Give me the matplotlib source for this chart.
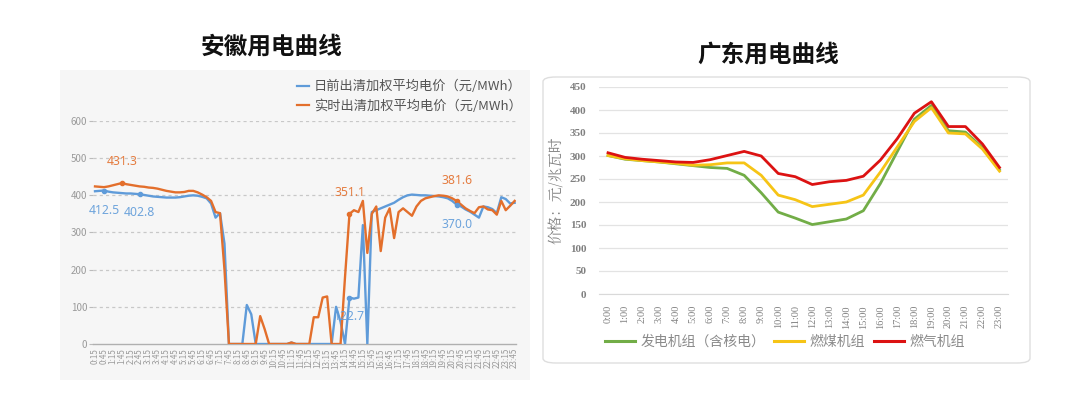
import matplotlib
matplotlib.use("Agg")
import matplotlib.pyplot as plt
from matplotlib.patches import Rectangle, FancyBboxPatch
from matplotlib.lines import Line2D

plt.rcParams['font.family'] = ['Noto Sans CJK SC', 'DejaVu Sans']

# ---------------- data: Anhui (15-min, 0:15 .. 23:45) ----------------
ah_times = [f"{(15 * (i + 1)) // 60}:{(15 * (i + 1)) % 60:02d}" for i in range(95)]
ah_day_ahead = [411, 412, 413, 410, 408, 407, 406, 405, 405, 404,
                403, 401, 399, 397, 396, 395, 394, 394, 394, 395,
                397, 399, 400, 399, 396, 392, 378, 340, 352, 270,
                0, 0, 0, 0, 105, 80, 0, 0, 0, 0,
                0, 0, 0, 0, 4, 0, 0, 0, 0, 0,
                0, 0, 0, 0, 100, 60, 0, 125, 122, 125,
                320, 0, 355, 360, 365, 370, 375, 380, 388, 395,
                400, 402, 401, 400, 400, 399, 398, 397, 395, 392,
                385, 375, 370, 362, 356, 348, 340, 370, 368, 363,
                352, 395, 390, 378, 380]
ah_real_time = [424, 423, 422, 424, 427, 430, 433, 430, 428, 426,
                424, 423, 421, 420, 418, 415, 412, 410, 408, 408,
                409, 412, 412, 408, 402, 395, 385, 355, 352, 200,
                0, 0, 0, 0, 0, 0, 0, 75, 40, 0,
                0, 0, 0, 0, 4, 0, 0, 0, 0, 72,
                72, 125, 128, 0, 0, 0, 180, 350, 360, 355,
                385, 245, 350, 370, 250, 340, 365, 285, 355, 365,
                355, 345, 370, 385, 392, 395, 398, 400, 399, 397,
                392, 385, 375, 365, 358, 352, 368, 370, 362, 360,
                348, 385, 360, 372, 385]
ah_series_names = ["日前出清加权平均电价（元/MWh）", "实时出清加权平均电价（元/MWh）"]
# annotations: (series, index, label text, text value position)
ah_notes = [(0, 2, "412.5", 360), (0, 10, "402.8", 354), (1, 6, "431.3", 492),
            (1, 57, "351.1", 408), (0, 57, "122.7", 73), (1, 81, "381.6", 440),
            (0, 81, "370.0", 322)]
ah_yticks = [0, 100, 200, 300, 400, 500, 600]

# ---------------- data: Guangdong (hourly) ----------------
gd_hours = [f"{h}:00" for h in range(24)]
gd_gen_all = [301, 293, 290, 287, 283, 279, 275, 273, 258, 220,
              178, 165, 151, 157, 163, 181, 240, 310, 380, 410,
              355, 352, 318, 270]
gd_coal = [301, 294, 290, 287, 284, 280, 281, 285, 285, 258,
           215, 205, 190, 195, 200, 215, 265, 320, 375, 405,
           350, 348, 315, 267]
gd_gas = [307, 297, 293, 290, 287, 286, 292, 301, 310, 300,
          262, 255, 238, 244, 247, 256, 291, 338, 393, 418,
          364, 364, 326, 275]
gd_series_names = ["发电机组（含核电）", "燃煤机组", "燃气机组"]
gd_yticks = list(range(0, 451, 50))

# ---------------- figure ----------------
W, H = 1080, 393
fig = plt.figure(figsize=(W / 100, H / 100), dpi=100)
fig.patch.set_facecolor("white")

def fx(px):
    return px / W

def fy(py):
    return 1 - py / H

# left panel background
fig.patches.append(Rectangle((fx(60), fy(380)), fx(470), 310 / H, transform=fig.transFigure,
                             facecolor="#f6f6f6", edgecolor="none", zorder=-5))
# right panel rounded box
fig.patches.append(FancyBboxPatch((fx(543), fy(363)), fx(487), 286 / H,
                                  boxstyle="round,pad=0,rounding_size=0.012",
                                  transform=fig.transFigure, facecolor="white",
                                  edgecolor="#dedede", linewidth=1.0, zorder=-5))

BLUE = "#5f9bd9"
ORANGE = "#e36f2c"

# ---------------- left chart ----------------
axL = fig.add_axes([fx(93), fy(344), fx(516 - 93), (344 - 121) / H])
axL.set_facecolor("none")
x = list(range(len(ah_times)))
axL.plot(x, ah_day_ahead, color=BLUE, lw=1.7, zorder=3)
axL.plot(x, ah_real_time, color=ORANGE, lw=1.7, zorder=4)
series = [ah_day_ahead, ah_real_time]
colors = [BLUE, ORANGE]
for s, i, txt, ty in ah_notes:
    axL.plot([i], [series[s][i]], marker="o", ms=3, color=colors[s], zorder=5)
    axL.text(i, ty, txt, color=colors[s], fontsize=8.8, fontweight="bold",
             ha="center", va="center", family=["Noto Sans"], alpha=0.9, zorder=6)
axL.set_xlim(-0.45, 94.3)
axL.set_ylim(0, 600)
axL.set_yticks(ah_yticks)
axL.set_yticklabels([str(v) for v in ah_yticks], fontsize=7, color="#9a9a9a")
axL.set_xticks(x[::2])
axL.set_xticklabels(ah_times[::2], rotation=90, fontsize=5.8, color="#9a9a9a")
axL.tick_params(axis="y", length=3, color="#bbbbbb", pad=1)
axL.tick_params(axis="x", length=0, pad=3)
for yv in ah_yticks[1:]:
    axL.axhline(yv, color="#c8c8c8", lw=0.9, ls=(0, (2.5, 2.5)), zorder=1)
for sp in ["top", "right", "left"]:
    axL.spines[sp].set_visible(False)
axL.spines["bottom"].set_color("#b0b0b0")
axL.spines["bottom"].set_linewidth(1.0)

legL = fig.legend([Line2D([], [], color=BLUE, lw=1.6), Line2D([], [], color=ORANGE, lw=1.6)],
                  ah_series_names, loc="upper right", bbox_to_anchor=(fx(522), fy(80)),
                  frameon=False, fontsize=9.5, handlelength=0.9, handletextpad=0.4,
                  labelspacing=0.45, borderaxespad=0, borderpad=0)
for t in legL.get_texts():
    t.set_color("#555555")

fig.text(fx(272), fy(47), "安徽用电曲线", fontsize=17, fontweight="bold", ha="center",
         va="center", color="#111111")

# ---------------- right chart ----------------
GREEN = "#72ad47"
YELLOW = "#f6c416"
RED = "#dc1212"
axR = fig.add_axes([fx(599), fy(294), fx(1008 - 599), (294 - 87) / H])
axR.set_facecolor("none")
xr = list(range(len(gd_hours)))
axR.plot(xr, gd_gen_all, color=GREEN, lw=2.0, zorder=3)
axR.plot(xr, gd_coal, color=YELLOW, lw=2.0, zorder=4)
axR.plot(xr, gd_gas, color=RED, lw=2.0, zorder=5)
axR.set_xlim(-0.53, 23.5)
axR.set_ylim(0, 450)
axR.set_yticks(gd_yticks)
axR.set_yticklabels([str(v) for v in gd_yticks], fontsize=8, color="#808080",
                    fontweight="bold", family=["Liberation Serif"])
axR.set_xticks(xr)
axR.set_xticklabels(gd_hours, rotation=90, fontsize=7.5, color="#808080",
                    family=["Liberation Serif"])
axR.tick_params(axis="both", length=0)
axR.tick_params(axis="y", pad=9)
axR.tick_params(axis="x", pad=8)
axR.grid(axis="y", color="#e3e3e3", lw=0.9)
axR.set_axisbelow(True)
for sp in ["top", "right", "left"]:
    axR.spines[sp].set_visible(False)
axR.spines["bottom"].set_color("#d9d9d9")

fig.text(fx(557), fy(190), "价格：元/兆瓦时", rotation=90, fontsize=10.5, color="#808080",
         ha="center", va="center", family=["Noto Serif CJK SC", "Noto Sans CJK SC"])

legR = fig.legend([Line2D([], [], color=GREEN, lw=2.2), Line2D([], [], color=YELLOW, lw=2.2),
                   Line2D([], [], color=RED, lw=2.2)],
                  gd_series_names, loc="center", bbox_to_anchor=(fx(785), fy(342)), ncol=3,
                  frameon=False, fontsize=10, handlelength=2.2, handletextpad=0.4,
                  columnspacing=0.6, borderaxespad=0, borderpad=0)
for t in legR.get_texts():
    t.set_color("#8a8a8a")

fig.text(fx(768), fy(55), "广东用电曲线", fontsize=17, fontweight="bold", ha="center",
         va="center", color="#111111")

fig.savefig("out.png", dpi=100)
